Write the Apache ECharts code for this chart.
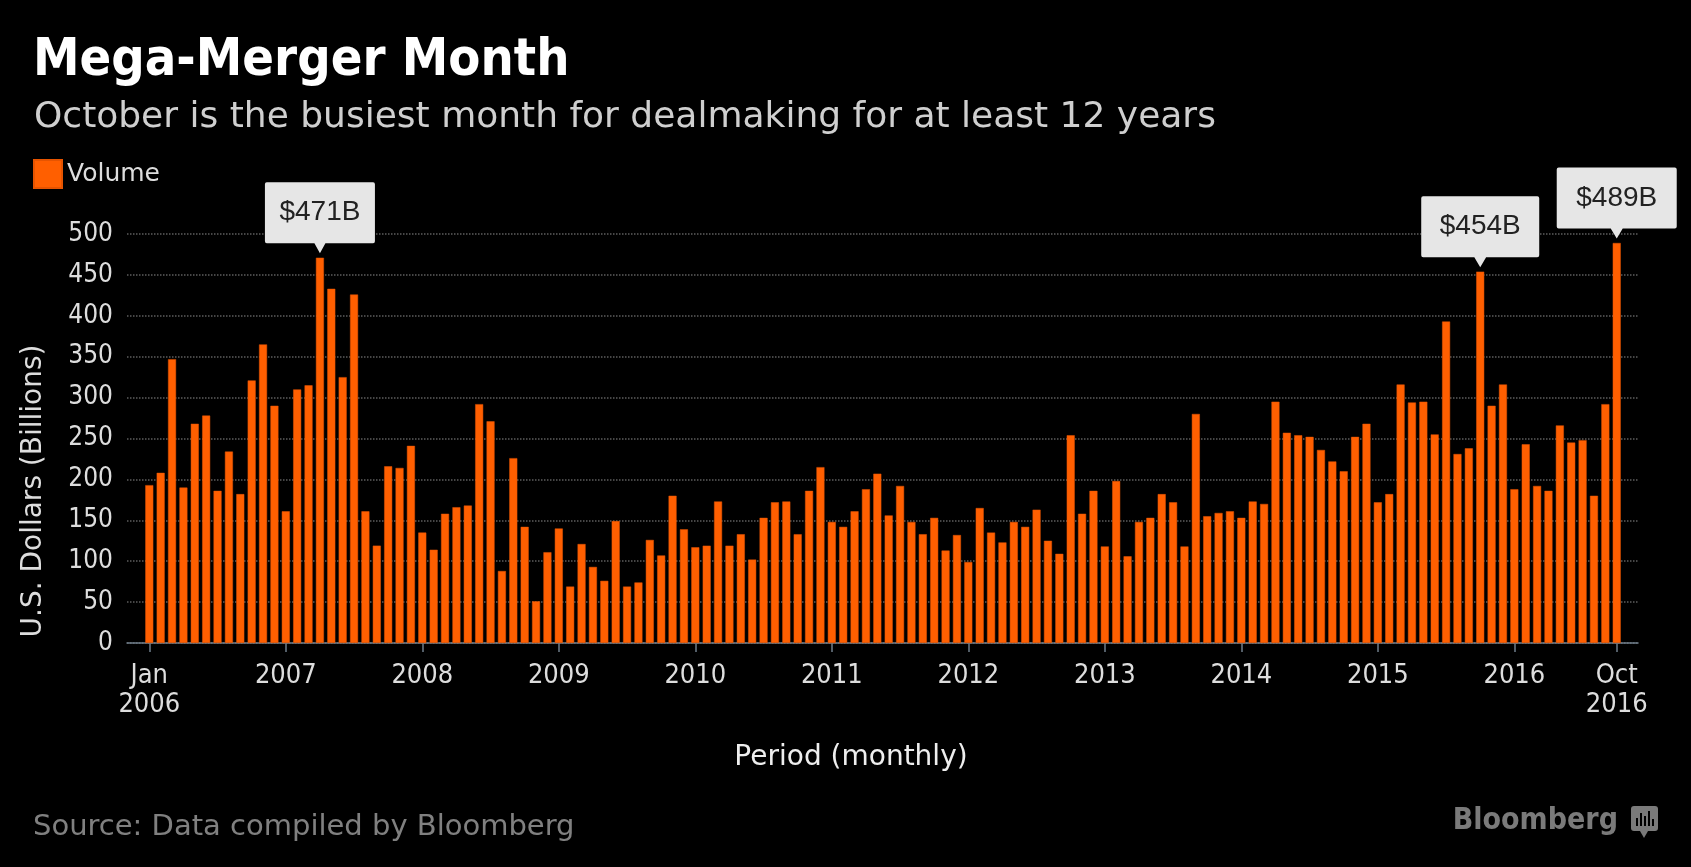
<!DOCTYPE html>
<html>
<head>
<meta charset="utf-8">
<title>Mega-Merger Month</title>
<script src="https://cdn.jsdelivr.net/npm/echarts@6/dist/echarts.min.js"></script>
<style>
  html, body { margin: 0; padding: 0; background: #000; }
  #main { width: 1691px; height: 867px; }
</style>
</head>
<body>
<div id="main"></div>
<script>
// monthly M&A volume, Jan 2006 - Oct 2016 (US$ billions)
var volume = [
  193, 208, 347, 190, 268, 278, 186, 234, 182, 321, 365, 290,
  161, 310, 315, 471, 433, 325, 426, 161, 119, 216, 214, 241,
  135, 114, 158, 166, 168, 292, 271, 88, 226, 142, 51, 111,
  140, 69, 121, 93, 76, 149, 69, 74, 126, 107, 180, 139,
  117, 119, 173, 119, 133, 102, 153, 172, 173, 133, 186, 215,
  148, 142, 161, 188, 207, 156, 192, 148, 133, 153, 113, 132,
  99, 165, 135, 123, 148, 142, 163, 125, 109, 254, 158, 186,
  118, 198, 106, 148, 153, 182, 172, 118, 280, 155, 159, 161,
  153, 173, 170, 295, 257, 254, 252, 236, 222, 210, 252, 268,
  172, 182, 316, 294, 295, 255, 393, 231, 238, 454, 290, 316,
  188, 243, 192, 186, 266, 245, 248, 180, 292, 489
];

// x axis ticks (month index) and their labels
var tickIndex = [0, 12, 24, 36, 48, 60, 72, 84, 96, 108, 120, 129];
var tickLabels = ['Jan\n2006', '2007', '2008', '2009', '2010', '2011', '2012',
  '2013', '2014', '2015', '2016', 'Oct\n2016'];

// highlighted months
var calloutIndex = [15, 117, 129];
var calloutText = ['$471B', '$454B', '$489B'];
var calloutWidth = [110, 118, 120];

var font = 'DejaVu Sans Condensed';
var wideFont = 'DejaVu Sans';

function initChart() {
  var myChart = echarts.init(document.getElementById('main'));

  var barData = volume.map(function (v, i) { return [i, v]; });

  // callout box with a small pointer at the bottom
  var boxPath = 'path://M2,0 L118,0 Q120,0 120,2 L120,59 Q120,61 118,61 L66,61 L60,71 L54,61 L2,61 Q0,61 0,59 L0,2 Q0,0 2,0 Z';

  var marks = calloutIndex.map(function (idx, i) {
    return {
      name: calloutText[i],
      coord: [idx, volume[idx]],
      symbolSize: [calloutWidth[i], 71]
    };
  });

  var option = {
    backgroundColor: '#000',
    animation: false,
    title: [
      {
        text: 'Mega-Merger Month',
        left: 33,
        top: 35,
        padding: 0,
        textStyle: { color: '#fff', fontSize: 52, fontWeight: 'bold', fontFamily: font }
      },
      {
        text: 'October is the busiest month for dealmaking for at least 12 years',
        left: 34,
        top: 100,
        padding: 0,
        textStyle: { color: '#cfcfcf', fontSize: 36, fontWeight: 'normal', fontFamily: wideFont }
      }
    ],
    legend: {
      left: 33,
      top: 159,
      padding: 0,
      itemWidth: 28,
      itemHeight: 28,
      itemGap: 10,
      icon: 'rect',
      data: ['Volume'],
      textStyle: { color: '#ddd', fontSize: 25, fontFamily: wideFont }
    },
    grid: {
      left: 127,
      right: 53,
      top: 234,
      bottom: 224,
      containLabel: false
    },
    xAxis: {
      type: 'value',
      min: -1.96,
      max: 130.87,
      axisLine: { show: true, lineStyle: { color: '#6f7d8a', width: 1.5 } },
      axisTick: {
        show: true,
        customValues: tickIndex,
        length: 9,
        lineStyle: { color: '#6f7d8a', width: 1.5 }
      },
      axisLabel: {
        customValues: tickIndex,
        margin: 18,
        color: '#ddd',
        fontSize: 27,
        lineHeight: 29,
        fontFamily: font,
        formatter: function (val) {
          var k = tickIndex.indexOf(Math.round(val));
          return k >= 0 ? tickLabels[k] : '';
        }
      },
      splitLine: { show: false }
    },
    yAxis: {
      type: 'value',
      min: 0,
      max: 500,
      interval: 50,
      axisLine: { show: false },
      axisTick: { show: false },
      axisLabel: { color: '#ddd', fontSize: 26, margin: 14, fontFamily: font },
      splitLine: { lineStyle: { color: '#5e5e5e', type: 'dotted', width: 1.5 } }
    },
    graphic: [
      {
        type: 'text',
        x: 34,
        y: 491,
        rotation: Math.PI / 2,
        style: {
          text: 'U.S. Dollars (Billions)',
          fill: '#ddd',
          font: '28px "' + wideFont + '"',
          textAlign: 'center',
          textVerticalAlign: 'middle'
        }
      },
      {
        type: 'text',
        x: 851,
        y: 758,
        style: {
          text: 'Period (monthly)',
          fill: '#eee',
          font: '28px "' + wideFont + '"',
          textAlign: 'center',
          textVerticalAlign: 'middle'
        }
      },
      {
        type: 'text',
        x: 33,
        y: 827,
        style: {
          text: 'Source: Data compiled by Bloomberg',
          fill: '#808080',
          font: '29px "' + wideFont + '"',
          textAlign: 'left',
          textVerticalAlign: 'middle'
        }
      },
      {
        type: 'text',
        x: 1618,
        y: 821,
        style: {
          text: 'Bloomberg',
          fill: '#7a7a7a',
          font: 'bold 30px "' + font + '"',
          textAlign: 'right',
          textVerticalAlign: 'middle'
        }
      },
      {
        type: 'rect',
        shape: { x: 1631, y: 806, width: 27, height: 25, r: 3 },
        style: { fill: '#7a7a7a' }
      },
      {
        type: 'polygon',
        shape: { points: [[1640, 831], [1648, 831], [1644, 838]] },
        style: { fill: '#7a7a7a' }
      },
      {
        type: 'group',
        children: [
          { type: 'rect', shape: { x: 1636, y: 818, width: 2, height: 8 }, style: { fill: '#000' } },
          { type: 'rect', shape: { x: 1640, y: 813, width: 2, height: 13 }, style: { fill: '#000' } },
          { type: 'rect', shape: { x: 1644, y: 816, width: 2, height: 10 }, style: { fill: '#000' } },
          { type: 'rect', shape: { x: 1648, y: 811, width: 2, height: 15 }, style: { fill: '#000' } },
          { type: 'rect', shape: { x: 1652, y: 819, width: 2, height: 7 }, style: { fill: '#000' } }
        ]
      }
    ],
    series: [
      {
        name: 'Volume',
        type: 'bar',
        data: barData,
        barWidth: 8,
        itemStyle: { color: '#ff5f00', borderColor: '#e65400', borderWidth: 0.5 },
        markPoint: {
          symbol: boxPath,
          symbolOffset: [0, -40],
          symbolKeepAspect: false,
          itemStyle: { color: '#e6e6e6' },
          label: {
            show: true,
            position: 'inside',
            offset: [0, -5],
            formatter: '{b}',
            color: '#222',
            fontSize: 28,
            fontFamily: 'Liberation Sans'
          },
          data: marks
        }
      }
    ]
  };

  myChart.setOption(option);
}

initChart();
</script>
</body>
</html>
